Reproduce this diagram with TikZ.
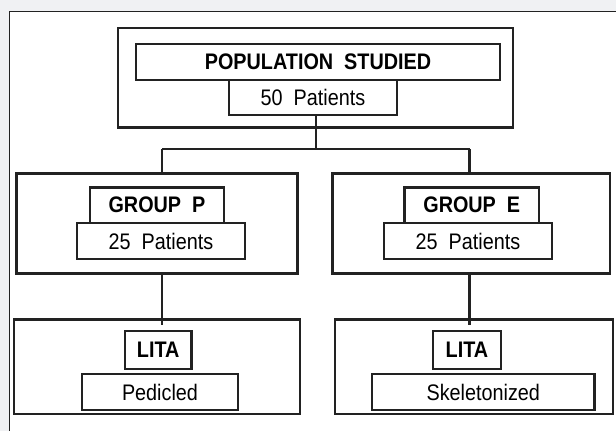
\documentclass[tikz,border=0pt]{standalone}
\usepackage{fontspec}
\setmainfont[FakeStretch=0.88]{Liberation Sans}
\definecolor{ink}{RGB}{34,34,34}
\definecolor{pagegray}{RGB}{240,241,243}

\begin{document}
\begin{tikzpicture}[x=1pt,y=-1pt,
  box/.style={draw=ink,line width=2.2pt,fill=white,inner sep=0pt},
  head/.style={box,font=\fontsize{22.5}{26}\selectfont\bfseries},
  count/.style={box,font=\fontsize{22.5}{26}\selectfont},
  link/.style={draw=ink,line width=2.2pt}]
 \useasboundingbox (0,0) rectangle (616,431);
 \fill[pagegray] (0,0) rectangle (616,431);
 \fill[white] (9,11) rectangle (616,431);
 \draw[ink,line width=1pt] (9,431)--(9,11)--(616,11);
% top block
 \node[box,minimum width=395pt,minimum height=99.5pt] (pop) at (315.5,77.75) {};
 \node[head,minimum width=364pt,minimum height=36pt] (poplbl) at (318,62) {POPULATION~~STUDIED};
 \node[count,minimum width=168pt,minimum height=35pt] (popn) at (313,97.5) {50~~Patients};
% groups
 \node[box,minimum width=281pt,minimum height=100pt] (grpP) at (157,223.5) {};
 \node[head,minimum width=134pt,minimum height=35.5pt] (grpPlbl) at (157,205.25) {GROUP~~P};
 \node[count,minimum width=168pt,minimum height=36pt] (grpPn) at (161,241) {25~~Patients};
 \node[box,minimum width=277.5pt,minimum height=100pt] (grpE) at (471.25,223.5) {};
 \node[head,minimum width=134.5pt,minimum height=35.5pt] (grpElbl) at (471.75,205.25) {GROUP~~E};
 \node[count,minimum width=168pt,minimum height=36pt] (grpEn) at (468,241) {25~~Patients};
% lita
 \node[box,minimum width=286pt,minimum height=94.5pt] (litaP) at (157,366.75) {};
 \node[head,minimum width=66.5pt,minimum height=38pt] (litaPlbl) at (158.25,350) {LITA};
 \node[count,minimum width=156pt,minimum height=36pt] (ped) at (160,392) {Pedicled};
 \node[box,minimum width=278pt,minimum height=94.5pt] (litaE) at (474,366.75) {};
 \node[head,minimum width=68pt,minimum height=38pt] (litaElbl) at (467,350) {LITA};
 \node[count,minimum width=222.5pt,minimum height=36pt] (skel) at (483.25,392) {Skeletonized};
% connectors
 \coordinate (split) at (316,149);
 \coordinate (jP) at (162,149);
 \coordinate (jE) at (469.5,149);
 \coordinate (endP) at (162,325);
 \coordinate (endE) at (469.5,325);
 \draw[link] (popn.south -| split) -- (split);
 \draw[link] (jP) -- (jE);
 \draw[link] (jP) -- (jP |- grpP.north);
 \draw[link] (jE) -- (jE |- grpE.north);
 \draw[link] (grpP.south -| endP) -- (endP);
 \draw[link] (grpE.south -| endE) -- (endE);
\end{tikzpicture}
\end{document}
